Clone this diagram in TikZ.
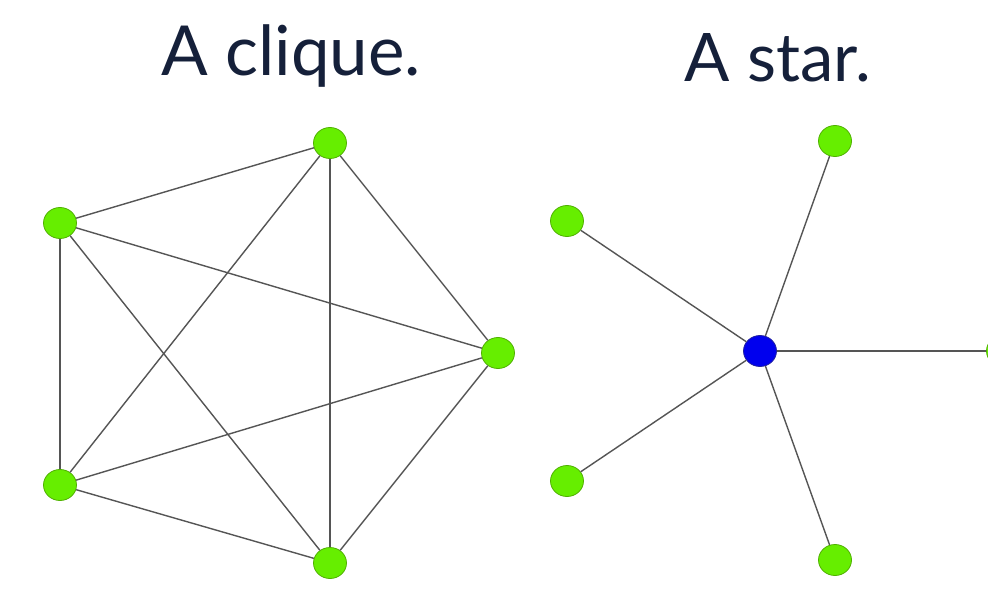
\documentclass[tikz,border=0pt]{standalone}
\usepackage{fontspec}
\setmainfont{Lato}
\usetikzlibrary{shapes.geometric}
\definecolor{titleink}{HTML}{15203A}
\definecolor{leaffill}{HTML}{66EE00}
\definecolor{leafrim}{HTML}{4FB000}
\definecolor{hubfill}{HTML}{0000EE}
\definecolor{hubrim}{HTML}{2020A0}
\definecolor{edgeink}{HTML}{555555}
\tikzset{
  leaf/.style={ellipse, minimum width=33pt, minimum height=31pt, inner sep=0pt,
    fill=leaffill, draw=leafrim, line width=0.8pt},
  hub/.style={ellipse, minimum width=33pt, minimum height=31pt, inner sep=0pt,
    fill=hubfill, draw=hubrim, line width=0.8pt},
  link/.style={draw=edgeink, line width=1.4pt},
  heading/.style={text=titleink, anchor=base, inner sep=0pt}
}
\begin{document}
\begin{tikzpicture}[x=1pt, y=-1pt]
  \useasboundingbox (0,0) rectangle (988,598);
  \clip (0,0) rectangle (988,598);
  \fill[white] (0,0) rectangle (988,598);

  % headings
  \node[heading, font=\fontsize{69}{69}\selectfont] (t1) at (291,75) {A clique.};
  \node[heading, font=\fontsize{67}{67}\selectfont] (t2) at (778,81) {A star.};

  % clique on five vertices
  \node[leaf] (c1) at (330,143) {};
  \node[leaf] (c2) at (60,223) {};
  \node[leaf] (c3) at (498,353) {};
  \node[leaf] (c4) at (60,485) {};
  \node[leaf] (c5) at (330,563) {};

  % star with one hub and five leaves
  \node[hub]  (h)  at (760,351) {};
  \node[leaf] (s1) at (835,141) {};
  \node[leaf] (s2) at (567,221) {};
  \node[leaf] (s3) at (1003,351) {};
  \node[leaf] (s4) at (567,481) {};
  \node[leaf] (s5) at (835,560) {};

  % edges stop at the vertex borders
  \foreach \a/\b in {c1/c2,c1/c3,c1/c4,c1/c5,c2/c3,c2/c4,c2/c5,c3/c4,c3/c5,c4/c5}
    \draw[link] (\a) -- (\b);
  \foreach \b in {s1,s2,s3,s4,s5}
    \draw[link] (h) -- (\b);
\end{tikzpicture}
\end{document}
